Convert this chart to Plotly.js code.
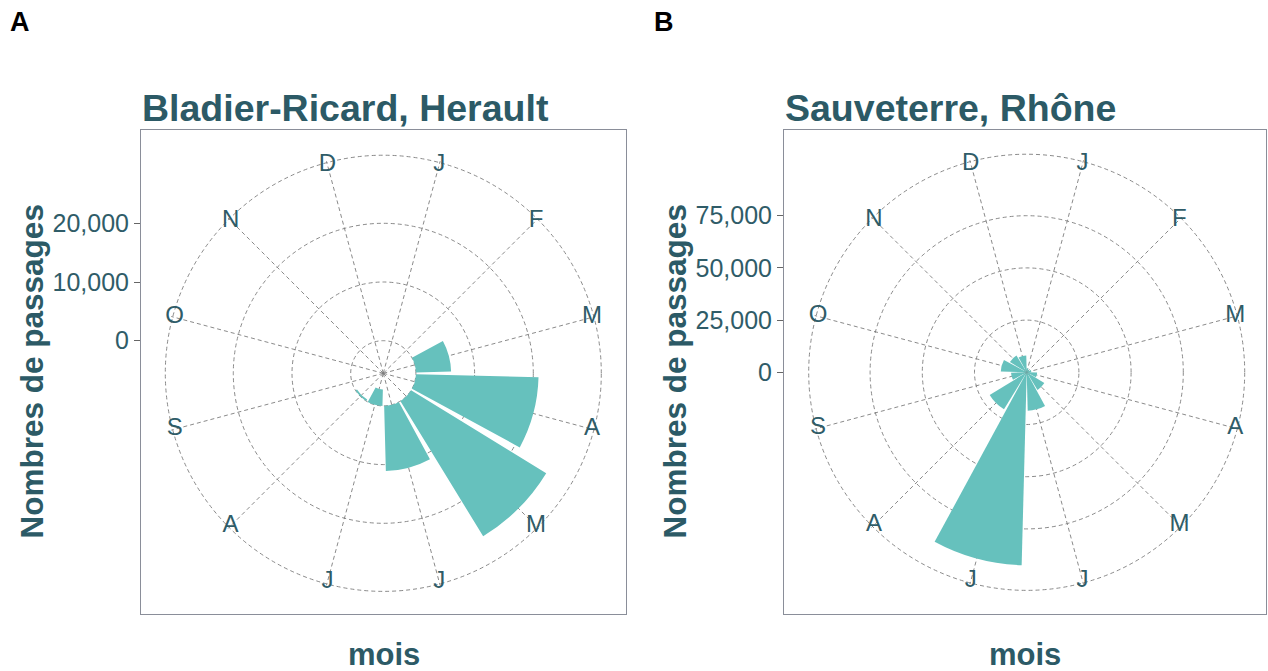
<!DOCTYPE html>
<html>
<head>
<meta charset="utf-8">
<script src="https://cdn.plot.ly/plotly-3.0.1.min.js"></script>
<style>html,body{margin:0;padding:0;background:#fff;}#chart{width:1268px;height:671px;}</style>
</head>
<body>
<div id="chart"></div>
<script>
// ---- data ----
const months = ["janvier","février","mars","avril","mai","juin","juillet","août","septembre","octobre","novembre","décembre"];
const monthLabels = ["J","F","M","A","M","J","J","A","S","O","N","D"];
const passagesA = [0, 0, 6000, 20900, 27000, 11100, -2800, -300, 0, 0, 0, 0];
const passagesB = [1900, 1400, 2200, 5000, 9900, 18400, 92400, 20800, 7500, 12400, 9400, 8100];
const ticksA = [0, 10000, 20000];
const ticksB = [0, 25000, 50000, 75000];
const titleA = "Bladier-Ricard, Herault";
const titleB = "Sauveterre, Rhône";
const tagA = "A", tagB = "B";
const xTitle = "mois";
const yTitle = "Nombres de passages";

// ---- layout constants (pixels) ----
const W = 1268, H = 671;
const FONT = "Liberation Sans, Arial, sans-serif";
const TEAL = "#2c5a66";
const TICKC = "#2f5c68";
const BAR = "#66c1bd";
const GRID = "#7d7d7d";
const FRAME = "#8a8e99";
const px = v => v / W;
const py = v => 1 - v / H;

const panels = [
  {key: "A", data: passagesA, ticks: ticksA, title: titleA, tag: tagA,
   frame: {l: 141, r: 626, t: 130, b: 614}, cx: 383.3, cy: 373.3,
   unitsPerPx: 10000 / 58.7, zeroPx: 32.6, tagX: 8, yTitleX: 31.5},
  {key: "B", data: passagesB, ticks: ticksB, title: titleB, tag: tagB,
   frame: {l: 784, r: 1266, t: 130, b: 614}, cx: 1026.7, cy: 372.3,
   unitsPerPx: 25000 / 52.2, zeroPx: 0, tagX: 652, yTitleX: 674.5}
];
const OUTER_PX = 218, DOMAIN_PX = 219.5;

const traces = [];
const layout = {
  width: W, height: H,
  margin: {l: 0, r: 0, t: 0, b: 0},
  paper_bgcolor: "#ffffff", plot_bgcolor: "rgba(0,0,0,0)",
  showlegend: false,
  font: {family: FONT, color: TEAL},
  annotations: []
};

panels.forEach((p, i) => {
  const polarName = i === 0 ? "polar" : "polar2";
  const xa = i === 0 ? "xaxis" : "xaxis2";
  const ya = i === 0 ? "yaxis" : "yaxis2";
  const xs = i === 0 ? "x" : "x2";
  const ys = i === 0 ? "y" : "y2";
  const vmin = -p.zeroPx * p.unitsPerPx;
  const vmax = vmin + DOMAIN_PX * p.unitsPerPx;
  const vouter = vmin + OUTER_PX * p.unitsPerPx;
  const vlabel = vmin + (OUTER_PX - 2) * p.unitsPerPx;

  traces.push({
    type: "barpolar", subplot: polarName,
    theta: months, r: p.data, base: 0,
    marker: {color: BAR, line: {width: 0}},
    hoverinfo: "skip"
  });
  traces.push({
    type: "scatterpolar", subplot: polarName, mode: "text",
    theta: months, r: months.map(() => vlabel), text: monthLabels,
    textposition: "middle center", cliponaxis: false,
    textfont: {family: FONT, size: 24, color: TICKC},
    hoverinfo: "skip"
  });
  traces.push({type: "scatter", x: [], y: [], xaxis: xs, yaxis: ys, hoverinfo: "skip", showlegend: false});

  layout[polarName] = {
    domain: {x: [px(p.cx - DOMAIN_PX), px(p.cx + DOMAIN_PX)], y: [py(p.cy + DOMAIN_PX), py(p.cy - DOMAIN_PX)]},
    bgcolor: "rgba(0,0,0,0)",
    bargap: 0.1,
    radialaxis: {
      range: [vmin, vmax], tickvals: p.ticks.concat([vouter]),
      showticklabels: false, ticks: "", showline: false,
      showgrid: true, gridcolor: GRID, gridwidth: 0.9, griddash: "4px,3px"
    },
    angularaxis: {
      type: "category", categoryarray: months, rotation: 75, direction: "clockwise",
      showticklabels: false, ticks: "", showline: false,
      showgrid: true, gridcolor: GRID, gridwidth: 0.9, griddash: "4px,3px"
    }
  };

  const f = p.frame;
  layout[xa] = {
    domain: [px(f.l), px(f.r)], range: [0, 1], anchor: ys,
    showline: true, mirror: true, linecolor: FRAME, linewidth: 1,
    showgrid: false, zeroline: false, showticklabels: false, ticks: "", fixedrange: true
  };
  layout[ya] = {
    domain: [py(f.b), py(f.t)], anchor: xs,
    range: [vmin - (f.b - p.cy) * p.unitsPerPx, vmin + (p.cy - f.t) * p.unitsPerPx],
    tickvals: p.ticks, tickformat: ",",
    ticks: "outside", ticklen: 6, tickcolor: "#666", tickwidth: 1,
    tickfont: {family: FONT, size: 25, color: TICKC},
    showline: true, mirror: true, linecolor: FRAME, linewidth: 1,
    showgrid: false, zeroline: false, fixedrange: true
  };

  layout.annotations.push(
    {text: "<b>" + p.title + "</b>", xref: "paper", yref: "paper", x: px(f.l - 1), y: py(107.8),
     xanchor: "left", yanchor: "middle", showarrow: false, font: {family: FONT, size: 37.5, color: TEAL}},
    {text: "<b>" + p.tag + "</b>", xref: "paper", yref: "paper", x: px(p.tagX), y: py(22.5),
     xanchor: "left", yanchor: "middle", showarrow: false, font: {family: FONT, size: 27, color: "#000"}},
    {text: "<b>" + yTitle + "</b>", xref: "paper", yref: "paper", x: px(p.yTitleX), y: py((f.t + f.b) / 2),
     xanchor: "center", yanchor: "middle", textangle: -90, showarrow: false, font: {family: FONT, size: 31.5, color: TEAL}},
    {text: "<b>" + xTitle + "</b>", xref: "paper", yref: "paper", x: px((f.l + f.r) / 2), y: py(654.2),
     xanchor: "center", yanchor: "middle", showarrow: false, font: {family: FONT, size: 31, color: TEAL}}
  );
});

Plotly.newPlot("chart", traces, layout, {displayModeBar: false, staticPlot: true});
</script>
</body>
</html>
